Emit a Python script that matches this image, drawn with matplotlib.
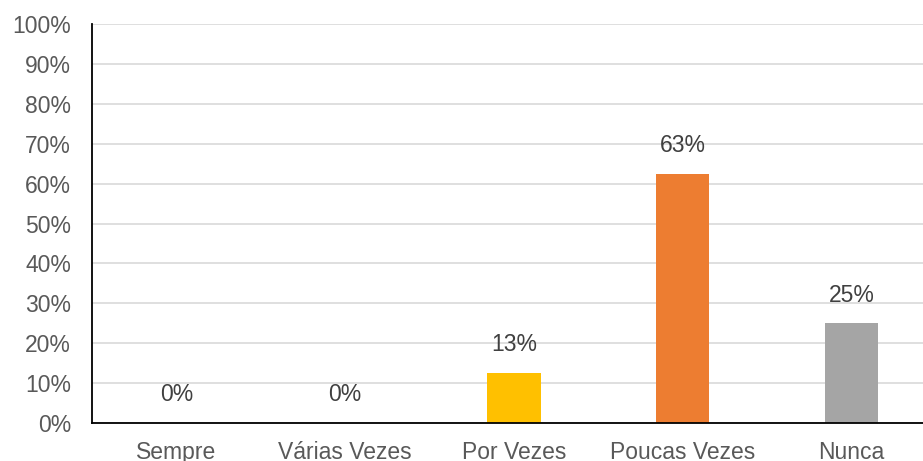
import matplotlib
matplotlib.use("Agg")
import matplotlib.pyplot as plt

categories = ["Sempre", "Várias Vezes", "Por Vezes", "Poucas Vezes", "Nunca"]
values = [0, 0, 12.5, 62.5, 25]
labels = ["0%", "0%", "13%", "63%", "25%"]
colors = ["#4472C4", "#5B9BD5", "#FFC000", "#ED7D31", "#A5A5A5"]
yticks = [0, 10, 20, 30, 40, 50, 60, 70, 80, 90, 100]
ytick_labels = [f"{v}%" for v in yticks]

plt.rcParams['font.family'] = ['Liberation Sans', 'DejaVu Sans']

W, H = 923, 461
fig = plt.figure(figsize=(W / 100, H / 100), dpi=100)
left, right, bottom, top = 92, 936, 423, 24
ax = fig.add_axes([left / W, (H - bottom) / H, (right - left) / W, (bottom - top) / H])

x = list(range(len(categories)))
ax.bar(x, values, width=0.314, color=colors, zorder=3)
for xi, v, lab in zip(x, values, labels):
    ax.annotate(lab, (xi, v), xytext=(0, 12), textcoords="offset points",
                ha="center", va="bottom", fontsize=16.5, color="#404040")

ax.set_xlim(-0.5, len(categories) - 0.5)
ax.set_ylim(0, 100)
ax.set_yticks(yticks)
ax.set_yticklabels(ytick_labels)
ax.set_xticks(x)
ax.set_xticklabels(categories)
ax.tick_params(axis="both", length=0, labelsize=16.5, colors="#595959")
ax.tick_params(axis="y", pad=15)
ax.tick_params(axis="x", pad=13)
ax.grid(axis="y", color="#D9D9D9", linewidth=1.2, zorder=0)
for s in ["top", "right"]:
    ax.spines[s].set_visible(False)
ax.spines["left"].set_color("black")
ax.spines["left"].set_linewidth(1.3)
ax.spines["bottom"].set_color("black")
ax.spines["bottom"].set_linewidth(1.3)
ax.spines["left"].set_zorder(4)
ax.spines["bottom"].set_zorder(4)

fig.savefig("out.png", dpi=100)
